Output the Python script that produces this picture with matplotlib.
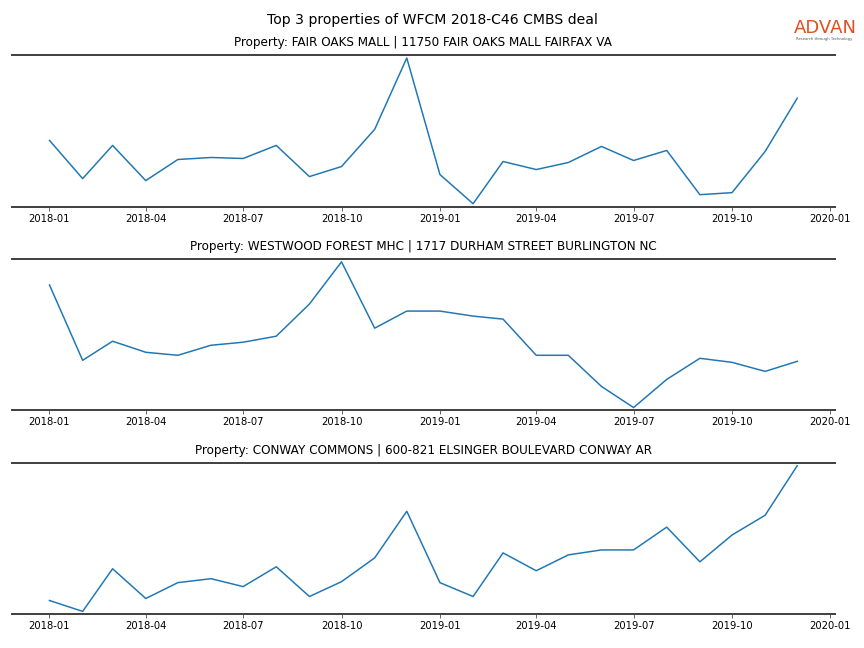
import pandas as pd
import matplotlib
matplotlib.use("Agg")
import matplotlib.pyplot as plt
import matplotlib.dates as mdates

# --- data (monthly index) ---
months = pd.date_range("2018-01-01", periods=24, freq="MS")

titles = [
    "Property: FAIR OAKS MALL | 11750 FAIR OAKS MALL FAIRFAX VA",
    "Property: WESTWOOD FOREST MHC | 1717 DURHAM STREET BURLINGTON NC",
    "Property: CONWAY COMMONS | 600-821 ELSINGER BOULEVARD CONWAY AR",
]

fair_oaks = [66, 28, 61, 26, 47, 49, 48, 61, 30, 40, 77, 148,
             32, 3, 45, 37, 44, 60, 46, 56, 12, 14, 55, 108]
westwood = [125, 50, 69, 58, 55, 65, 68, 74, 106, 148, 82, 99,
            99, 94, 91, 55, 55, 24, 3, 31, 52, 48, 39, 49]
conway = [12, 1, 44, 14, 30, 34, 26, 46, 16, 31, 55, 102,
          30, 16, 60, 42, 58, 63, 63, 86, 51, 78, 98, 148]

series = [fair_oaks, westwood, conway]

# --- figure ---
fig, axes = plt.subplots(3, 1, figsize=(12, 9), dpi=72)
fig.subplots_adjust(left=0.014, right=0.966, top=0.915, bottom=0.052, hspace=0.345)
fig.suptitle("Top 3 properties of WFCM 2018-C46 CMBS deal", fontsize=14, y=0.98)

for ax, vals, title in zip(axes, series, titles):
    ax.plot(months, vals, color="#1f77b4", linewidth=1.5)
    ax.set_title(title, fontsize=12, pad=9)
    ax.margins(y=0.02)
    ax.set_yticks([])
    for side in ("left", "right"):
        ax.spines[side].set_visible(False)
    for side in ("top", "bottom"):
        ax.spines[side].set_color("#444444")
        ax.spines[side].set_linewidth(2)
    ax.xaxis.set_major_locator(mdates.MonthLocator(bymonth=[1, 4, 7, 10]))
    ax.xaxis.set_major_formatter(mdates.DateFormatter("%Y-%m"))
    ax.tick_params(axis="x", labelsize=10, color="#444444")

# logo in the top-right corner
fig.text(0.955, 0.957, "ADVAN", color="#e2501c", fontsize=18,
         ha="center", va="center")
fig.text(0.954, 0.940, "Research through Technology", color="#555555",
         fontsize=3.8, ha="center", va="center")

fig.savefig("out.png", dpi=72)
